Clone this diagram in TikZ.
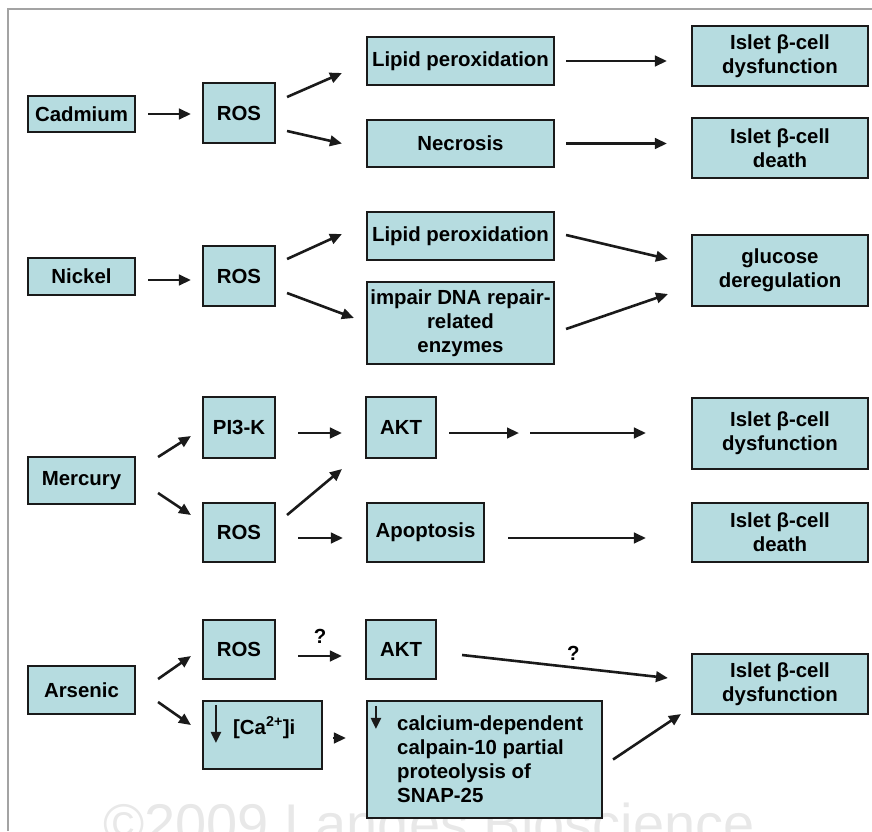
\documentclass[tikz,border=0pt]{standalone}
\usepackage{fontspec}
\setmainfont{Liberation Sans}
\usetikzlibrary{arrows.meta,positioning,calc}
\definecolor{cellfill}{HTML}{B6DCE0}
\definecolor{edge}{HTML}{1A1A1A}
\definecolor{framegray}{HTML}{A3A3A3}
\definecolor{wmark}{HTML}{E8E8E8}

\begin{document}
\begin{tikzpicture}[x=1pt, y=-1pt,
    cell/.style={draw=edge, line width=2.1pt, fill=cellfill, inner sep=0pt, align=center, font=\fontsize{20.4}{24}\selectfont\bfseries},
    note/.style={inner sep=0pt, font=\fontsize{20.4}{24}\selectfont\bfseries},
    link/.style={draw=edge, line width=2.6pt, -{Triangle[length=12pt,width=10.5pt]}},
    downarr/.style={draw=edge, line width=2.2pt, -{Triangle[length=11pt,width=10pt]}},
]
\useasboundingbox (0,0) rectangle (872,831);
\draw[framegray, line width=1.5pt] (8,831) -- (8,9) -- (872,9);
\node[anchor=base west, inner sep=0pt, text=wmark, font=\fontsize{56}{60}\selectfont] (wm) at (103,843) {©2009 Landes Bioscience};

\node[cell, minimum width=107pt, minimum height=36pt] (cad) at (81.5,114) {Cadmium};
\node[cell, minimum width=72pt, minimum height=60pt] (rosA) at (239,113) {ROS};
\node[cell, minimum width=187pt, minimum height=48pt] (lipA) at (460.5,61) {Lipid peroxidation};
\node[cell, minimum width=187pt, minimum height=47pt] (necro) at (460.5,143.5) {Necrosis};
\node[cell, minimum width=176pt, minimum height=60pt] (dysA) at (780,56) {Islet β-cell\\dysfunction};
\node[cell, minimum width=176pt, minimum height=60pt] (deathA) at (780,148) {Islet β-cell\\death};

\node[cell, minimum width=107pt, minimum height=37pt] (nic) at (81.5,276.5) {Nickel};
\node[cell, minimum width=72pt, minimum height=60pt] (rosB) at (239,276) {ROS};
\node[cell, minimum width=187pt, minimum height=48pt] (lipB) at (460.5,236) {Lipid peroxidation};
\node[cell, minimum width=187pt, minimum height=82pt] (dna) at (460.5,323) {impair DNA repair-\\related\\enzymes};
\node[cell, minimum width=176pt, minimum height=71pt] (gluc) at (780,270.5) {glucose\\deregulation};

\node[cell, minimum width=107pt, minimum height=47pt] (merc) at (81.5,480.5) {Mercury};
\node[cell, minimum width=72pt, minimum height=61pt] (pik) at (239,427.5) {PI3-K};
\node[cell, minimum width=72pt, minimum height=59pt] (rosC) at (239,532.5) {ROS};
\node[cell, minimum width=70pt, minimum height=61pt] (aktA) at (401,427.5) {AKT};
\node[cell, minimum width=117pt, minimum height=59pt] (apop) at (425.5,532.5) {Apoptosis};
\node[cell, minimum width=176pt, minimum height=71pt] (dysB) at (780,433.5) {Islet β-cell\\dysfunction};
\node[cell, minimum width=176pt, minimum height=59pt] (deathB) at (780,532.5) {Islet β-cell\\death};
\coordinate (gap) at (525,433);

\node[cell, minimum width=107pt, minimum height=48pt] (ars) at (81.5,690) {Arsenic};
\node[cell, minimum width=72pt, minimum height=59pt] (rosD) at (239,649.5) {ROS};
\node[cell, minimum width=70pt, minimum height=59pt] (aktB) at (401,649.5) {AKT};
\node[cell, minimum width=119pt, minimum height=68pt] (cai) at (262.5,735) {};
\node[note, anchor=base west] (caitext) at (233,734) {[Ca\textsuperscript{2+}]i};
\node[cell, minimum width=235pt, minimum height=117pt] (calp) at (484.5,759.5) {};
\node[note, anchor=north west, align=left] (calptext) at (397,716) {calcium-dependent\\calpain-10 partial\\proteolysis of\\SNAP-25};
\node[cell, minimum width=176pt, minimum height=60pt] (dysC) at (780,684) {Islet β-cell\\dysfunction};

\draw[downarr] ([shift={(14,5)}]cai.north west) -- ++(0,38);
\draw[downarr] ([shift={(10,6)}]calp.north west) -- ++(0,23);

\draw[link] ([shift={(12,0)}]cad.east) -- ([shift={(-11,1)}]rosA.west);
\draw[link] ([shift={(11,-16)}]rosA.east) -- ([shift={(-24,12)}]lipA.west);
\draw[link] ([shift={(11,18)}]rosA.east) -- ([shift={(-24,0)}]necro.west);
\draw[link] ([shift={(11,0)}]lipA.east) -- ([shift={(-24,5)}]dysA.west);
\draw[link] ([shift={(11,0)}]necro.east) -- ([shift={(-24,-4.5)}]deathA.west);

\draw[link] ([shift={(12,3.5)}]nic.east) -- ([shift={(-11,4)}]rosB.west);
\draw[link] ([shift={(11,-17)}]rosB.east) -- ([shift={(-24,-2)}]lipB.west);
\draw[link] ([shift={(11,17)}]rosB.east) -- ([shift={(-12,-5)}]dna.west);
\draw[link] ([shift={(11,-1)}]lipB.east) -- ([shift={(-23,-11.5)}]gluc.west);
\draw[link] ([shift={(11,6)}]dna.east) -- ([shift={(-23,23.5)}]gluc.west);

\draw[link] ([shift={(22,-23.5)}]merc.east) -- ([shift={(-11,8.5)}]pik.west);
\draw[link] ([shift={(22,12.5)}]merc.east) -- ([shift={(-11,-17.5)}]rosC.west);
\draw[link] ([shift={(22,5.5)}]pik.east) -- ([shift={(-23,5.5)}]aktA.west);
\draw[link] ([shift={(11,-17.5)}]rosC.east) -- ([shift={(-23,10)}]aktA.south west);
\draw[link] ([shift={(22,5.5)}]rosC.east) -- ([shift={(-23,5.5)}]apop.west);
\draw[link] ([shift={(12,5.5)}]aktA.east) -- ([shift={(-6,0)}]gap);
\draw[link] ([shift={(5,0)}]gap) -- ([shift={(-45,-0.5)}]dysB.west);
\draw[link] ([shift={(23,5.5)}]apop.east) -- ([shift={(-45,5.5)}]deathB.west);

\draw[link] ([shift={(22,-11)}]ars.east) -- ([shift={(-11,6.5)}]rosD.west);
\draw[link] ([shift={(22,12)}]ars.east) -- ([shift={(-11,-10)}]cai.west);
\draw[link] ([shift={(22,6.5)}]rosD.east) -- node[note, midway, above=11pt] {?} ([shift={(-23,6.5)}]aktB.west);
\draw[link] ([shift={(25,5.5)}]aktB.east) -- node[note, pos=0.54, above=6pt] {?} ([shift={(-23,-6)}]dysC.west);
\draw[link] ([shift={(10,3)}]cai.east) -- ([shift={(-20,-21.5)}]calp.west);
\draw[link] ([shift={(10,0)}]calp.east) -- ([shift={(-10,-1)}]dysC.south west);
\end{tikzpicture}
\end{document}
